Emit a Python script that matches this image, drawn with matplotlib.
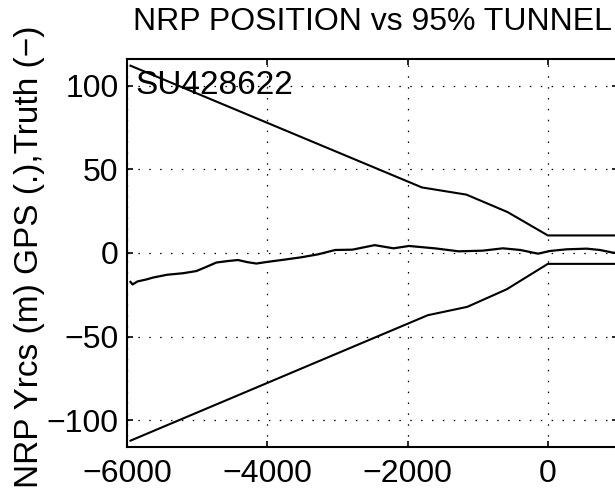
import numpy as np
import matplotlib
matplotlib.use("Agg")
import matplotlib.pyplot as plt

plt.rcParams['font.family'] = ['Liberation Sans', 'DejaVu Sans']

# truth tunnel (95%) upper and lower bounds
upper_x = [-5950, -1795, -1161, -576, 0, 1000]
upper_y = [112.0, 39.2, 34.9, 24.5, 10.5, 10.5]
lower_x = [-5950, -1712, -1149, -587, 0, 1000]
lower_y = [-112.2, -37.2, -32.2, -21.7, -6.5, -6.5]

# GPS NRP position
gps_x = [-5950, -5920, -5850, -5721, -5630, -5428, -5202, -5011, -4880, -4726,
         -4560, -4418, -4280, -4155, -4012, -3727, -3521, -3276, -3032, -2787,
         -2469, -2200, -1980, -1614, -1271, -929, -640, -391, -210, -139,
         29, 266, 552, 742, 929, 1000]
gps_y = [-17.3, -18.8, -17.0, -15.8, -14.7, -13.0, -12.1, -10.8, -8.5, -5.7,
         -4.8, -4.2, -5.5, -6.3, -5.4, -3.8, -2.6, -0.8, 1.8, 2.0,
         4.7, 2.8, 4.2, 2.8, 1.0, 1.4, 2.8, 1.8, 0.2, -0.4,
         1.2, 2.2, 2.6, 1.8, 0.2, 0.0]

xticks = [-6000, -4000, -2000, 0]
yticks = [-100, -50, 0, 50, 100]

fig = plt.figure(figsize=(6.15, 4.95), dpi=100)
ax = fig.add_axes([127/615, 48/495, 491/615, 388/495])

ax.plot(upper_x, upper_y, color='black', lw=1.5)
ax.plot(lower_x, lower_y, color='black', lw=1.5)
ax.plot(gps_x, gps_y, color='black', lw=1.6)

ax.set_xlim(-6000, 1000)
ax.set_ylim(-116, 116)
ax.set_xticks(xticks)
ax.set_yticks(yticks)
ax.set_xticklabels([f'\u2212{abs(t)}' if t < 0 else str(t) for t in xticks])
ax.set_yticklabels([f'\u2212{abs(t)}' if t < 0 else str(t) for t in yticks])

ax.grid(True, color='black', lw=0.9, linestyle=(0, (1.2, 7.5)))
ax.tick_params(direction='in', length=4.5, width=1.2, top=True, right=True,
               labelsize=23)
ax.tick_params(axis='x', pad=9)
ax.tick_params(axis='y', pad=6)
for s in ax.spines.values():
    s.set_linewidth(1.5)

ax.text(-5880, 95, 'SU428622', fontsize=24, va='baseline', ha='left')
ax.set_title('NRP POSITION vs 95% TUNNEL', fontsize=23, pad=21)
ax.set_ylabel('NRP Yrcs (m) GPS (.),Truth (\u2212)', fontsize=24)
ax.yaxis.set_label_coords(-0.168, 0.49)

fig.savefig('out.png', dpi=100)
